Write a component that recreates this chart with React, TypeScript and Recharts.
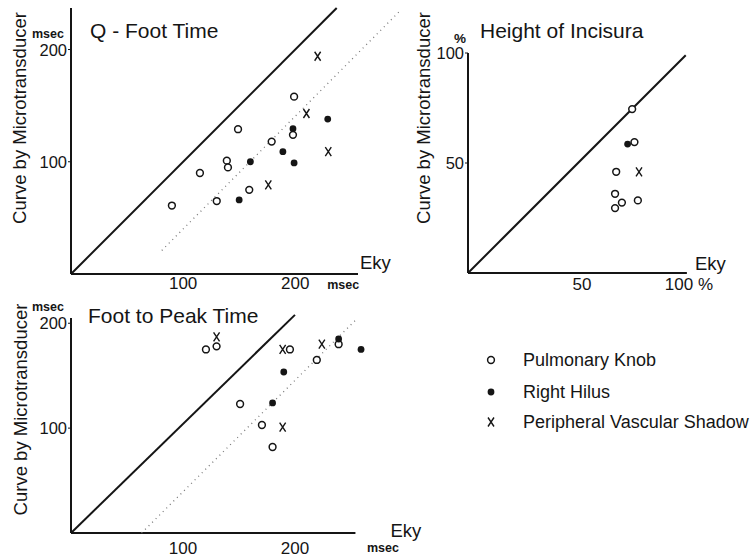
import React from "react"
import { Label, ReferenceLine, Scatter, ScatterChart, XAxis, YAxis } from "recharts"

const FONT = "'Liberation Sans', Arial, sans-serif"
const INK = "#151515"

// each pair is [Eky, curve by microtransducer]
const qFootKnob = [[90, 61], [115, 90], [130, 65], [139, 101], [140, 95], [149, 129], [159, 75], [179, 118], [199, 158], [198, 124]]
const qFootHilus = [[150, 66], [160, 100], [189, 109], [198, 129.5], [199, 99], [229, 138]]
const qFootShadow = [[176, 79.5], [210, 143], [220, 194], [229.5, 109]]
const qFootTrend = [[81, 21], [294, 235]]

const incisuraKnob = [[72, 74.5], [73, 59.5], [65, 46], [64.5, 36], [67.5, 32], [64.5, 29.5], [74.5, 33]]
const incisuraHilus = [[70, 58.6]]
const incisuraShadow = [[75, 46]]

const peakKnob = [[120.5, 175], [130, 178], [195.5, 175], [219.5, 165], [239, 180], [151, 123], [170.5, 103], [180, 82]]
const peakHilus = [[239, 185], [259, 175], [190, 153.5], [180, 124]]
const peakShadow = [[130, 187], [189, 175], [224, 180], [189, 101]]
const peakTrend = [[63, 0], [256, 205]]

const seriesNames = ["Pulmonary Knob", "Right Hilus", "Peripheral Vascular Shadow"]
const titles = ["Q - Foot Time", "Height of Incisura", "Foot to Peak Time"]
const yTitle = "Curve by Microtransducer"

const toPts = (pairs: number[][]) => pairs.map(([x, y]) => ({ x, y }))

function OpenMark(props: any) {
  const { cx, cy } = props
  return <circle cx={cx} cy={cy} r={3.4} fill="#fff" stroke={INK} strokeWidth={1.5} />
}

function FilledMark(props: any) {
  const { cx, cy } = props
  return <circle cx={cx} cy={cy} r={3.4} fill={INK} />
}

function CrossMark(props: any) {
  const { cx, cy } = props
  return (
    <path
      d={`M${cx - 3},${cy - 4.5}L${cx + 3},${cy + 4.5}M${cx + 3},${cy - 4.5}L${cx - 3},${cy + 4.5}`}
      stroke={INK}
      strokeWidth={1.4}
      fill="none"
    />
  )
}

const marks = [OpenMark, FilledMark, CrossMark]

interface PanelSpec {
  left: number
  top: number
  width: number
  height: number
  margin: { top: number; right: number; bottom: number; left: number }
  yAxisWidth: number
  xAxisHeight: number
  xDomain: number[]
  yDomain: number[]
  xTicks: number[]
  yTicks: number[]
  xAxisEnd: number
  diagonalEnd: number[]
  trend?: number[][]
  series: number[][][]
  xUnit: string
  xUnitDx: number
  xUnitDy: number
  xLabelDy: number
  yUnit: string
  yUnitDx: number
  yUnitDy: number
  ekyDx: number
  ekyDy: number
  yTitleDx: number
  yTitleDy: number
}

const panels: PanelSpec[] = [
  {
    left: 0, top: 0, width: 420, height: 300,
    margin: { top: 8, right: 62, bottom: 0, left: 0 }, yAxisWidth: 71, xAxisHeight: 26,
    xDomain: [0, 256], yDomain: [0, 237], xTicks: [100, 200], yTicks: [100, 200],
    xAxisEnd: 256, diagonalEnd: [237, 237], trend: qFootTrend,
    series: [qFootKnob, qFootHilus, qFootShadow],
    xUnit: "msec", xUnitDx: 48, xUnitDy: 11, xLabelDy: 9,
    yUnit: "msec", yUnitDx: -19, yUnitDy: -16,
    ekyDx: 2, ekyDy: -11.5, yTitleDx: -52, yTitleDy: -23,
  },
  {
    left: 400, top: 0, width: 350, height: 300,
    margin: { top: 53, right: 54, bottom: 0, left: 0 }, yAxisWidth: 68, xAxisHeight: 27,
    xDomain: [0, 100], yDomain: [0, 100], xTicks: [50, 100], yTicks: [50, 100],
    xAxisEnd: 96, diagonalEnd: [95.5, 99],
    series: [incisuraKnob, incisuraHilus, incisuraShadow],
    xUnit: "", xUnitDx: 0, xUnitDy: 0, xLabelDy: 11,
    yUnit: "%", yUnitDx: -4, yUnitDy: -15,
    ekyDx: 8, ekyDy: -10, yTitleDx: -45, yTitleDy: -45,
  },
  {
    left: 0, top: 290, width: 440, height: 267,
    margin: { top: 28, right: 75.6, bottom: 0, left: 0 }, yAxisWidth: 71, xAxisHeight: 24,
    xDomain: [0, 262], yDomain: [0, 205], xTicks: [100, 200], yTicks: [100, 200],
    xAxisEnd: 254, diagonalEnd: [200, 208], trend: peakTrend,
    series: [peakKnob, peakHilus, peakShadow],
    xUnit: "msec", xUnitDx: 88, xUnitDy: 15, xLabelDy: 15,
    yUnit: "msec", yUnitDx: -19, yUnitDy: -16,
    ekyDx: 35, ekyDy: -3, yTitleDx: -51, yTitleDy: -16,
  },
]

function Panel({ spec }: { spec: PanelSpec }) {
  const top = spec.yTicks[spec.yTicks.length - 1]
  const lastX = spec.xTicks[spec.xTicks.length - 1]

  const xTick = (p: any) => {
    const v = p.payload.value
    const pct = spec.yUnit === "%" && v === lastX
    return (
      <g fontFamily={FONT} fill={INK}>
        <text x={pct ? p.x + 17 : p.x} y={p.y + spec.xLabelDy} textAnchor={pct ? "end" : "middle"} dominantBaseline="central" fontSize={17}>
          {pct ? "100 %" : v}
        </text>
        {spec.xUnit && v === lastX && (
          <text x={p.x + spec.xUnitDx} y={p.y + spec.xUnitDy} textAnchor="middle" dominantBaseline="central" fontSize={12.5} fontWeight="bold">
            {spec.xUnit}
          </text>
        )}
      </g>
    )
  }

  const yTick = (p: any) => {
    const v = p.payload.value
    return (
      <g fontFamily={FONT} fill={INK}>
        <text x={p.x} y={p.y} textAnchor="end" dominantBaseline="central" fontSize={16.5}>
          {v}
        </text>
        {v === top && (
          <text x={p.x + spec.yUnitDx} y={p.y + spec.yUnitDy} textAnchor="middle" dominantBaseline="central" fontSize={spec.yUnit === "%" ? 13.5 : 12.5} fontWeight="bold">
            {spec.yUnit}
          </text>
        )}
      </g>
    )
  }

  return (
    <div style={{ position: "absolute", left: spec.left, top: spec.top }}>
      <ScatterChart width={spec.width} height={spec.height} margin={spec.margin}>
        <XAxis
          type="number"
          dataKey="x"
          domain={spec.xDomain}
          ticks={spec.xTicks}
          interval={0}
          axisLine={false}
          tickLine={false}
          tickSize={0}
          tickMargin={0}
          height={spec.xAxisHeight}
          tick={xTick}
        />
        <YAxis
          type="number"
          dataKey="y"
          domain={spec.yDomain}
          ticks={spec.yTicks}
          interval={0}
          axisLine={{ stroke: INK, strokeWidth: 2 }}
          tickLine={{ stroke: INK, strokeWidth: 1 }}
          tickSize={3}
          tickMargin={1}
          width={spec.yAxisWidth}
          tick={yTick}
        >
          <Label
            content={(p: any) => {
              const vb = p.viewBox
              const cx = vb.x + vb.width + spec.yTitleDx
              const cy = vb.y + vb.height / 2 + spec.yTitleDy
              return (
                <text x={cx} y={cy} transform={`rotate(-90 ${cx} ${cy})`} textAnchor="middle" dominantBaseline="central" fontSize={18.5} fontFamily={FONT} fill={INK}>
                  {yTitle}
                </text>
              )
            }}
          />
        </YAxis>
        <ReferenceLine
          segment={[{ x: 0, y: 0 }, { x: spec.xAxisEnd, y: 0 }]}
          stroke={INK}
          strokeWidth={2}
          ifOverflow="visible"
        >
          <Label
            content={(p: any) => {
              const vb = p.viewBox
              return (
                <text x={vb.x + vb.width + spec.ekyDx} y={vb.y + spec.ekyDy} textAnchor="start" dominantBaseline="central" fontSize={18.5} fontFamily={FONT} fill={INK}>
                  Eky
                </text>
              )
            }}
          />
        </ReferenceLine>
        <ReferenceLine
          segment={[{ x: 0, y: 0 }, { x: spec.diagonalEnd[0], y: spec.diagonalEnd[1] }]}
          stroke={INK}
          strokeWidth={2}
          ifOverflow="visible"
        />
        {spec.trend && (
          <ReferenceLine
            segment={toPts(spec.trend)}
            stroke="#7a7a7a"
            strokeWidth={1.3}
            strokeDasharray="1 4"
            ifOverflow="visible"
          />
        )}
        {spec.series.map((s, i) => (
          <Scatter key={i} name={seriesNames[i]} data={toPts(s)} shape={marks[i]} isAnimationActive={false} />
        ))}
      </ScatterChart>
    </div>
  )
}

const titlePos = [
  { x: 90, y: 30 },
  { x: 480, y: 30 },
  { x: 88, y: 315 },
]

const legendRows = [360, 392, 422]

export default function App() {
  return (
    <div style={{ position: "absolute", left: 0, top: 0, width: 750, height: 557, overflow: "hidden", background: "#fff" }}>
      {panels.map((p, i) => (
        <Panel key={i} spec={p} />
      ))}
      <svg width={750} height={557} style={{ position: "absolute", left: 0, top: 0, pointerEvents: "none" }}>
        {titles.map((t, i) => (
          <text key={t} x={titlePos[i].x} y={titlePos[i].y} dominantBaseline="central" fontSize={21} fontFamily={FONT} fill={INK}>
            {t}
          </text>
        ))}
        {seriesNames.map((n, i) => {
          const Mark = marks[i]
          return (
            <g key={n}>
              <Mark cx={491} cy={legendRows[i]} />
              <text x={523} y={legendRows[i]} dominantBaseline="central" fontSize={18} fontFamily={FONT} fill={INK}>
                {n}
              </text>
            </g>
          )
        })}
      </svg>
    </div>
  )
}
